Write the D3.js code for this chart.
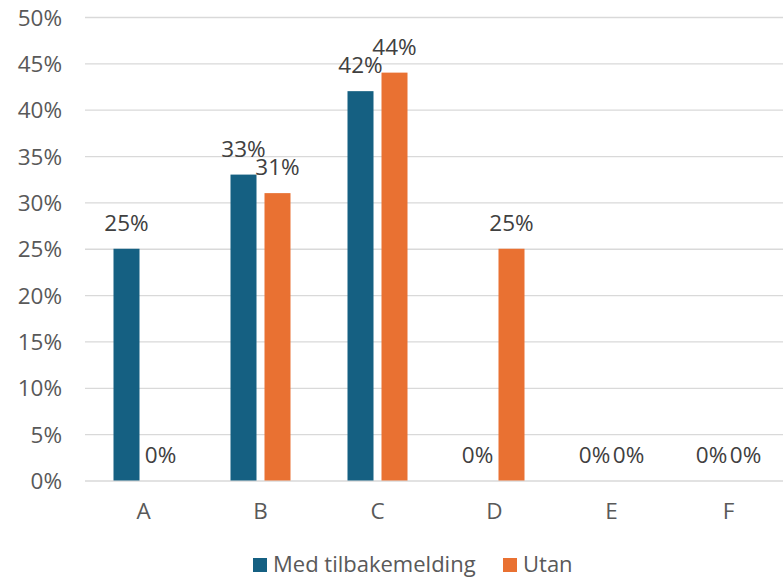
<!DOCTYPE html>
<html><head><meta charset="utf-8">
<script src="https://cdn.jsdelivr.net/npm/d3@7"></script>
<style>body{margin:0;background:#fff}svg{display:block}text{font-family:"Open Sans",sans-serif}</style>
</head><body>
<script>
const categories = ["A","B","C","D","E","F"];
const seriesNames = ["Med tilbakemelding","Utan"];
const medValues = [0.25,0.33,0.42,0,0,0];
const utanValues = [0,0.31,0.44,0.25,0,0];
const yTicks = [0,0.05,0.10,0.15,0.20,0.25,0.30,0.35,0.40,0.45,0.50];
const colors = ["#156082","#E97132"];

const W=783,H=577;
const svg=d3.select("body").append("svg").attr("width",W).attr("height",H);
const x0=d3.scaleBand().domain(categories).range([85,787]);
const x1=d3.scaleBand().domain(seriesNames).range([x0.bandwidth()/2-30,x0.bandwidth()/2+30]).paddingInner(2-60/34);
const y=d3.scaleLinear().domain([0,0.5]).range([480.5,17]);

const yAxis=d3.axisLeft(y).tickValues(yTicks).tickFormat(d3.format(".0%")).tickSize(-(787-85)).tickPadding(23);
const ga=svg.append("g").attr("transform","translate(85,0)").call(yAxis);
ga.select(".domain").remove();
ga.selectAll(".tick line").attr("stroke","#d9d9d9").attr("stroke-width",1.3);
ga.selectAll(".tick text").attr("fill","#595959").style("font-size","22.5px").attr("x",-23).attr("dy","0.36em");

const xAxis=d3.axisBottom(x0).tickSize(0).tickPadding(0);
const gx=svg.append("g").attr("transform","translate(0,480.5)").call(xAxis);
gx.select(".domain").remove();
gx.selectAll(".tick text").attr("fill","#595959").style("font-size","22.5px").attr("y",38).attr("dy",0);

const data=categories.map((c,i)=>({cat:c,vals:[medValues[i],utanValues[i]]}));
const groups=svg.append("g").selectAll("g").data(data).join("g").attr("transform",d=>`translate(${x0(d.cat)},0)`);
groups.selectAll("rect").data(d=>d.vals.map((v,j)=>({v,s:seriesNames[j],j}))).join("rect")
 .attr("x",d=>x1(d.s)).attr("width",x1.bandwidth())
 .attr("y",d=>y(d.v)).attr("height",d=>y(0)-y(d.v)).attr("fill",d=>colors[d.j]);
groups.selectAll("text.lbl").data(d=>d.vals.map((v,j)=>({v,s:seriesNames[j],j}))).join("text").attr("class","lbl")
 .attr("x",d=>x1(d.s)+x1.bandwidth()/2).attr("y",d=>y(d.v)-18)
 .attr("text-anchor","middle").attr("fill","#404040").style("font-size","22.5px")
 .text(d=>d3.format(".0%")(d.v));

const legendItems=[{name:seriesNames[0],x:253},{name:seriesNames[1],x:503}];
const lg=svg.append("g");
legendItems.forEach((it,i)=>{
  lg.append("rect").attr("x",it.x).attr("y",558).attr("width",14).attr("height",14).attr("fill",colors[i]);
  lg.append("text").attr("x",it.x+20).attr("y",572).attr("fill","#595959").style("font-size","22px").text(it.name);
});
</script>
</body></html>
